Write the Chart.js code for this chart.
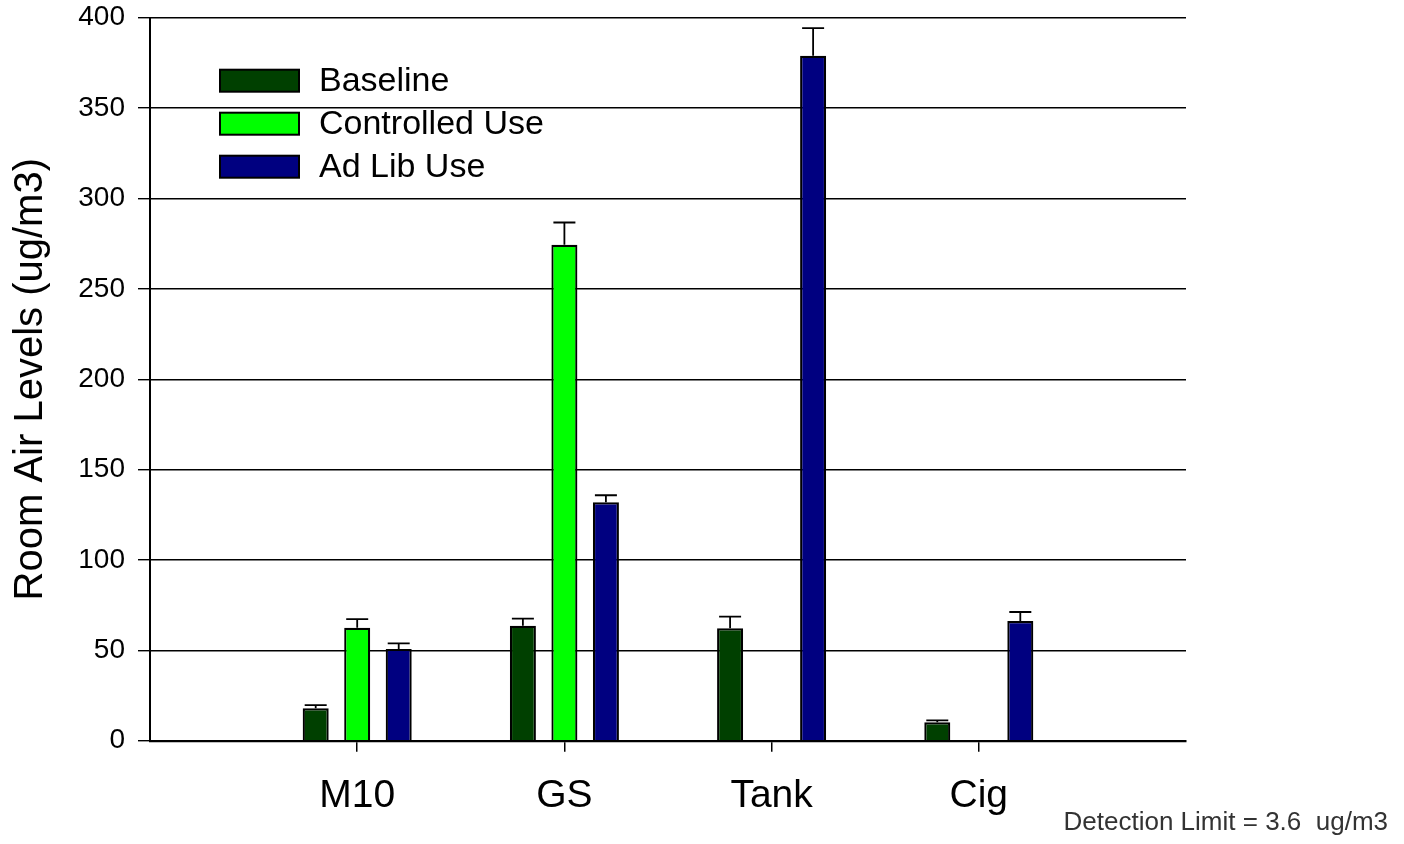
<!DOCTYPE html>
<html>
<head>
<meta charset="utf-8">
<script src="https://cdn.jsdelivr.net/npm/chart.js@4.4.1/dist/chart.umd.min.js"></script>
<style>
  html, body { margin: 0; padding: 0; background: #ffffff; }
  #wrap { width: 1404px; height: 844px; position: relative; }
</style>
</head>
<body>
<div id="wrap"><canvas id="chart" width="1404" height="844"></canvas></div>
<script>
// Device groups; the empty slots at each end keep the outer margins of the axis.
const categories = ['', 'M10', 'GS', 'Tank', 'Cig', ''];

// Mean room air levels (ug/m3) and the upper error amounts.
const baseline      = [null, 17.9, 63.6, 62.2, 10.2, null];
const baselineErr   = [null, 1.8, 3.9, 6.4, 1.1, null];
const controlled    = [null, 62.5, 274.4, null, null, null];
const controlledErr = [null, 4.8, 12.3, null, null, null];
const adLib         = [null, 50.8, 131.9, 378.9, 66.2, null];
const adLibErr      = [null, 3.0, 3.9, 15.3, 5.0, null];

const seriesNames  = ['Baseline', 'Controlled Use', 'Ad Lib Use'];
const seriesColors = ['#004000', '#00ff00', '#000080'];
const yTickValues  = [0, 50, 100, 150, 200, 250, 300, 350, 400];
const yTitle       = 'Room Air Levels (ug/m3)';
const footNote     = 'Detection Limit = 3.6  ug/m3';

const FONT = "'Liberation Sans', Arial, Helvetica, sans-serif";

// Upward-only error bars with a flat cap.
const errorBars = {
  id: 'errorBars',
  afterDatasetsDraw(chart) {
    const ctx = chart.ctx;
    const yScale = chart.scales.y;
    chart.data.datasets.forEach((ds, i) => {
      const meta = chart.getDatasetMeta(i);
      meta.data.forEach((bar, j) => {
        const v = ds.data[j];
        const e = ds.errorPlus ? ds.errorPlus[j] : null;
        if (v == null || e == null) return;
        const top = yScale.getPixelForValue(v + e);
        const half = 11;
        ctx.save();
        ctx.strokeStyle = '#000';
        ctx.lineWidth = 1.8;
        ctx.beginPath();
        ctx.moveTo(bar.x, bar.y);
        ctx.lineTo(bar.x, top);
        ctx.moveTo(bar.x - half, top);
        ctx.lineTo(bar.x + half, top);
        ctx.stroke();
        ctx.restore();
      });
    });
  }
};

// Legend inside the plot area, plus the footnote in the lower right corner.
const annotations = {
  id: 'annotations',
  afterDraw(chart) {
    const ctx = chart.ctx;
    const area = chart.chartArea;
    const boxX = area.left + 70;
    const boxW = 79, boxH = 22;
    const firstY = area.top + 63;
    const rowGap = 43;
    ctx.save();
    chart.data.datasets.forEach((ds, i) => {
      const cy = firstY + i * rowGap;
      ctx.fillStyle = ds.backgroundColor;
      ctx.fillRect(boxX, cy - boxH / 2, boxW, boxH);
      ctx.strokeStyle = '#000';
      ctx.lineWidth = 2;
      ctx.strokeRect(boxX, cy - boxH / 2, boxW, boxH);
      ctx.fillStyle = '#000';
      ctx.font = '34px ' + FONT;
      ctx.textAlign = 'left';
      ctx.textBaseline = 'middle';
      ctx.fillText(ds.label, boxX + 99, cy + 1);
    });
    ctx.font = '26px ' + FONT;
    ctx.fillStyle = '#333333';
    ctx.textAlign = 'right';
    ctx.textBaseline = 'alphabetic';
    ctx.fillText(footNote, chart.width - 16, 830);
    ctx.restore();
  }
};

const makeSet = (i, data, err) => ({
  label: seriesNames[i],
  data: data,
  errorPlus: err,
  backgroundColor: seriesColors[i],
  borderColor: '#000',
  borderWidth: 2.2,
  borderSkipped: 'bottom',
  categoryPercentage: 0.601,
  barPercentage: 0.627
});

// Keep the plot box fixed: no extra room for overhanging tick labels.
const noOverhang = (scale) => {
  scale.paddingTop = 0;
  scale.paddingBottom = 0;
  scale.paddingLeft = 0;
  scale.paddingRight = 0;
};

new Chart(document.getElementById('chart'), {
  type: 'bar',
  data: {
    labels: categories,
    datasets: [
      makeSet(0, baseline, baselineErr),
      makeSet(1, controlled, controlledErr),
      makeSet(2, adLib, adLibErr)
    ]
  },
  options: {
    responsive: false,
    animation: false,
    events: [],
    layout: { padding: { left: 0, right: 218, top: 17.7, bottom: 0 } },
    plugins: {
      legend: { display: false },
      tooltip: { enabled: false }
    },
    scales: {
      x: {
        type: 'category',
        offset: false,
        afterFit(scale) { scale.height = 103.3; noOverhang(scale); },
        grid: {
          offset: false,
          drawOnChartArea: false,
          drawTicks: true,
          tickLength: 11,
          lineWidth: 1.5,
          tickColor: (ctx) => (categories[ctx.index] ? '#000' : 'rgba(0,0,0,0)')
        },
        border: { display: true, color: '#000', width: 2.2 },
        ticks: {
          autoSkip: false,
          maxRotation: 0,
          color: '#000',
          padding: 21,
          font: { family: FONT, size: 39 }
        }
      },
      y: {
        min: 0,
        max: 400,
        afterFit(scale) { scale.width = 150; noOverhang(scale); },
        afterBuildTicks(scale) { scale.ticks = yTickValues.map(v => ({ value: v })); },
        grid: {
          color: '#000',
          lineWidth: 1.4,
          drawTicks: true,
          tickLength: 12
        },
        border: { display: true, color: '#000', width: 2 },
        ticks: {
          color: '#000',
          padding: 13,
          font: { family: FONT, size: 28 }
        },
        title: {
          display: true,
          text: yTitle,
          color: '#000',
          padding: { top: 7, bottom: 0 },
          font: { family: FONT, size: 40 }
        }
      }
    }
  },
  plugins: [errorBars, annotations]
});
</script>
</body>
</html>
